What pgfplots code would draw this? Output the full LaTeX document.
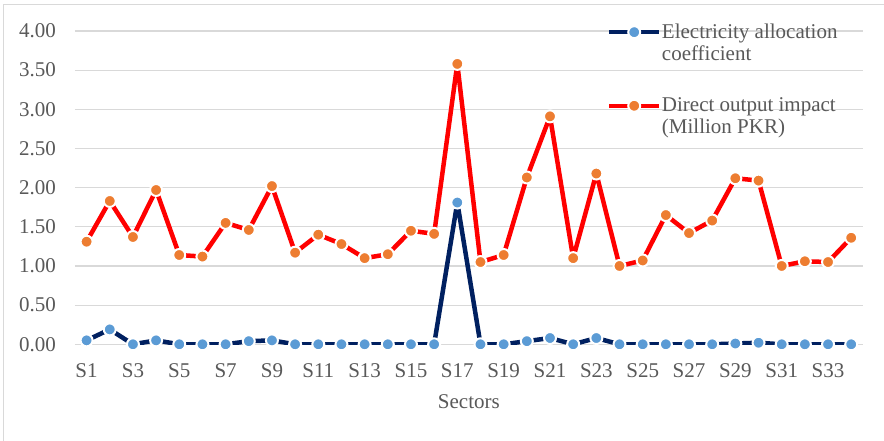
\documentclass[border=0pt]{standalone}
\usepackage{fontspec}
\setmainfont{Liberation Serif}
\usepackage{pgfplots}
\pgfplotsset{compat=1.18}
\usepackage{pgfplotstable}

\definecolor{navyline}{HTML}{002060}
\definecolor{bluemark}{HTML}{5B9BD5}
\definecolor{redline}{HTML}{FF0000}
\definecolor{orangemark}{HTML}{ED7D31}
\definecolor{gridgray}{HTML}{D9D9D9}
\definecolor{labelgray}{HTML}{595959}

% sector, electricity allocation coefficient, direct output impact (million PKR)
\pgfplotstableread{
x  alloc  impact
1  0.05   1.31
2  0.19   1.83
3  0.00   1.37
4  0.05   1.97
5  0.00   1.14
6  0.00   1.12
7  0.00   1.55
8  0.04   1.46
9  0.05   2.02
10 0.00   1.17
11 0.00   1.40
12 0.00   1.28
13 0.00   1.10
14 0.00   1.15
15 0.00   1.45
16 0.00   1.41
17 1.81   3.58
18 0.00   1.05
19 0.00   1.14
20 0.04   2.13
21 0.08   2.91
22 0.00   1.10
23 0.08   2.18
24 0.00   1.00
25 0.00   1.07
26 0.00   1.65
27 0.00   1.42
28 0.00   1.58
29 0.01   2.12
30 0.02   2.09
31 0.00   1.00
32 0.00   1.06
33 0.00   1.05
34 0.00   1.36
}\sectordata

\newcommand{\chartfont}{\fontsize{21}{24}\selectfont}

\begin{document}
\begin{tikzpicture}
\useasboundingbox (-75pt,-96.7pt) rectangle (809pt,344.3pt);
\fill[white] (-75pt,-96.7pt) rectangle (809pt,344.3pt);
\begin{scope}
  \clip (-75pt,-96.7pt) rectangle (809pt,344.3pt);
  \draw[gridgray, line width=1.3pt] (-71.3pt,-120pt) -- (-71.3pt,339.5pt) -- (840pt,339.5pt);
\end{scope}
\begin{axis}[
  scale only axis,
  width=787.8pt, height=313.3pt,
  xmin=0.5, xmax=34.5,
  ymin=0, ymax=4,
  ytick={0,0.5,...,4},
  xtick={1,3,...,33},
  xticklabels={S1,S3,S5,S7,S9,S11,S13,S15,S17,S19,S21,S23,S25,S27,S29,S31,S33},
  axis line style={draw=none},
  major tick length=0pt,
  ymajorgrids,
  grid style={gridgray, line width=1.1pt},
  /pgf/number format/assume math mode=true,
  y tick label style={/pgf/number format/fixed, /pgf/number format/fixed zerofill,
    /pgf/number format/precision=2},
  tick label style={font=\chartfont, text=labelgray, inner sep=0pt},
  yticklabel style={anchor=east, xshift=-19pt},
  xticklabel style={anchor=north, yshift=-19.4pt},
  xlabel={Sectors},
  xlabel style={at={(axis description cs:0.5,0)}, anchor=center, yshift=-57.4pt,
    font=\chartfont, text=labelgray, inner sep=0pt},
  legend cell align=left,
  legend image code/.code={%
    \draw[mark repeat=2, mark phase=2] plot coordinates {(0pt,0pt) (25pt,0pt) (50pt,0pt)};},
  legend style={at={(0.675,1.0226)}, anchor=north west, draw=none, fill=none,
    inner sep=0pt, row sep=5.7pt, column sep=0.5pt,
    nodes={inner sep=0pt, font=\chartfont, text=labelgray}},
]
\addplot[navyline, line width=4.5pt, line join=round, mark=*, mark size=6pt,
  mark options={draw=white, line width=2pt, fill=bluemark}]
  table[x=x, y=alloc] {\sectordata};
\addlegendentry{Electricity allocation}
\addlegendimage{empty legend}
\addlegendentry{coefficient}
\addlegendimage{empty legend}
\addlegendentry{\rule{0pt}{23pt}}
\addplot[redline, line width=4.5pt, line join=round, mark=*, mark size=6pt,
  mark options={draw=white, line width=2pt, fill=orangemark}]
  table[x=x, y=impact] {\sectordata};
\addlegendentry{Direct output impact}
\addlegendimage{empty legend}
\addlegendentry{(Million PKR)}
\end{axis}
\end{tikzpicture}
\end{document}
